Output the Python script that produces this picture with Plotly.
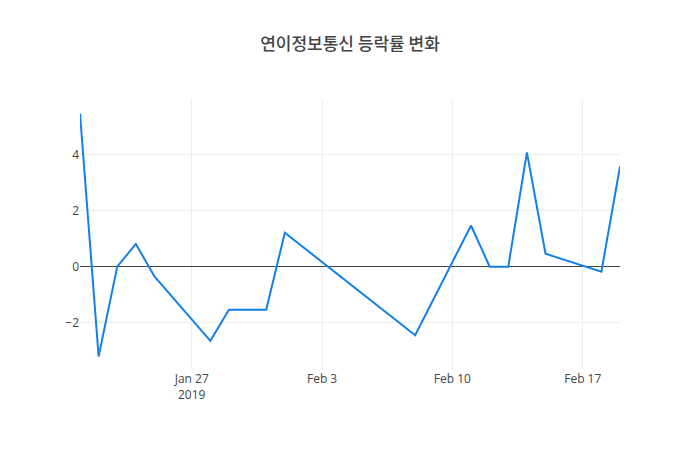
import plotly.graph_objects as go

dates = ["2019-01-21", "2019-01-22", "2019-01-23", "2019-01-24", "2019-01-25",
         "2019-01-28", "2019-01-29", "2019-01-31", "2019-02-01", "2019-02-08",
         "2019-02-11", "2019-02-12", "2019-02-13", "2019-02-14", "2019-02-15",
         "2019-02-18", "2019-02-19"]
changes = [5.47, -3.21, 0.0, 0.81, -0.35,
           -2.65, -1.54, -1.54, 1.21, -2.45,
           1.47, 0.0, 0.0, 4.08, 0.46,
           -0.18, 3.58]

title_text = "연이정보통신 등락률 변화"

fig = go.Figure()
fig.add_trace(go.Scatter(x=dates, y=changes, mode="lines",
                         line=dict(color="#1480e8", width=2)))
fig.update_layout(
    template="none",
    width=700, height=450,
    title=dict(text=title_text, x=0.5, xanchor="center",
               font=dict(size=17, color="#444", weight=500,
                         family="Noto Sans CJK KR, Open Sans, sans-serif")),
    font=dict(family="Open Sans, Noto Sans CJK KR, sans-serif", color="#444"),
    xaxis=dict(showgrid=True, gridcolor="#eee", zeroline=False, showline=False),
    yaxis=dict(showgrid=True, gridcolor="#eee", zeroline=True,
               zerolinecolor="#444", zerolinewidth=1, showline=False),
    showlegend=False,
    margin=dict(l=80, r=80, t=100, b=80),
)
fig.write_html("out.html")
